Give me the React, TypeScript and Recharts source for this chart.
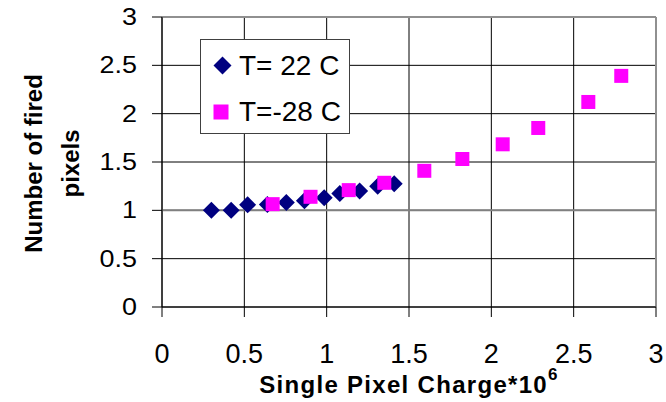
import React from 'react';
import { ScatterChart, Scatter, XAxis, YAxis, CartesianGrid, ReferenceLine, Label } from 'recharts';

const warmCharge = [0.3, 0.42, 0.52, 0.64, 0.755, 0.865, 0.985, 1.08, 1.2, 1.31, 1.41];
const warmFired = [1.0, 1.0, 1.057, 1.06, 1.08, 1.1, 1.13, 1.175, 1.2, 1.25, 1.275];
const coldCharge = [0.672, 0.902, 1.134, 1.35, 1.593, 1.824, 2.069, 2.285, 2.589, 2.789];
const coldFired = [1.064, 1.14, 1.209, 1.285, 1.409, 1.531, 1.683, 1.852, 2.121, 2.391];
const xTicks = [0, 0.5, 1, 1.5, 2, 2.5, 3];
const yTicks = [0, 0.5, 1, 1.5, 2, 2.5, 3];
const seriesNames = ['T= 22 C', 'T=-28 C'];
const xTitle = 'Single Pixel Charge*10';
const xTitleSup = '6';
const yTitleLines = ['Number of fired', 'pixels'];

const FONT = '"Liberation Sans", Arial, Helvetica, sans-serif';
const NAVY = '#000080';
const MAGENTA = '#FF00FF';

const warmData = warmCharge.map((x, i) => ({ x, y: warmFired[i] }));
const coldData = coldCharge.map((x, i) => ({ x, y: coldFired[i] }));

const Diamond = (props: any) => {
  const { cx, cy } = props;
  const r = 8.5;
  return <polygon points={`${cx},${cy - r} ${cx + r},${cy} ${cx},${cy + r} ${cx - r},${cy}`} fill={NAVY} />;
};

const Square = (props: any) => {
  const { cx, cy } = props;
  return <rect x={cx - 7} y={cy - 7} width={14} height={14} fill={MAGENTA} />;
};

const YTick = (props: any) => {
  const { x, y, payload } = props;
  return (
    <text
      x={x}
      y={y}
      dy="0.355em"
      textAnchor="end"
      fontSize={23}
      fontFamily={FONT}
      fill="#000"
      transform={`translate(${x},${y}) scale(1.17,1) translate(${-x},${-y})`}
    >
      {payload.value}
    </text>
  );
};

const XTitle = (props: any) => {
  const vb = props.viewBox || { x: 162, y: 307, width: 494 };
  const cx = vb.x + vb.width / 2;
  const y = vb.y + 85.6;
  return (
    <text x={cx} y={y} textAnchor="middle" fontSize={24} fontWeight="bold" fontFamily={FONT} fill="#000" letterSpacing={1.3}>
      {xTitle}
      <tspan fontSize={17} dy={-13}>{xTitleSup}</tspan>
    </text>
  );
};

const YTitle = (props: any) => {
  const vb = props.viewBox || { x: 0, y: 17, width: 162, height: 290 };
  const cy = vb.y + vb.height / 2 + 1.5;
  const xs = [41.7, 79];
  return (
    <g>
      {yTitleLines.map((line, i) => (
        <text
          key={i}
          x={xs[i]}
          y={cy}
          textAnchor="middle"
          fontSize={24}
          fontWeight="bold"
          fontFamily={FONT}
          fill="#000"
          transform={`rotate(-90, ${xs[i]}, ${cy})`}
        >
          {line}
        </text>
      ))}
    </g>
  );
};

const LegendBox = () => (
  <div
    style={{
      position: 'absolute',
      left: 200,
      top: 39,
      width: 150,
      height: 95,
      border: '1px solid #404040',
      boxSizing: 'border-box',
      background: '#fff',
    }}
  >
    <svg width={148} height={93} style={{ display: 'block' }}>
      <polygon points="21.5,16.5 30.5,25.5 21.5,34.5 12.5,25.5" fill={NAVY} />
      <rect x={12.5} y={64.5} width={15} height={15} fill={MAGENTA} />
      <text x={38} y={35} fontSize={28} fontFamily={FONT} fill="#000">{seriesNames[0]}</text>
      <text x={38} y={80.5} fontSize={28} fontFamily={FONT} fill="#000">{seriesNames[1]}</text>
    </svg>
  </div>
);

export default function App() {
  return (
    <div style={{ position: 'absolute', left: 0, top: 0, width: 666, height: 402, background: '#fff' }}>
      <ScatterChart width={666} height={402} margin={{ top: 17, right: 10, bottom: 0, left: 0 }}>
        <CartesianGrid stroke="#000" strokeWidth={1} horizontalValues={yTicks} verticalValues={xTicks} />
        <XAxis
          type="number"
          dataKey="x"
          domain={[0, 3]}
          ticks={xTicks}
          height={95}
          tickSize={10}
          tickMargin={27}
          interval={0}
          axisLine={{ stroke: '#000' }}
          tickLine={{ stroke: '#000' }}
          tick={{ fontSize: 27, fill: '#000', fontFamily: FONT }}
          allowDataOverflow
        >
          <Label content={<XTitle />} />
        </XAxis>
        <YAxis
          type="number"
          dataKey="y"
          domain={[0, 3]}
          ticks={yTicks}
          width={162}
          tickSize={10}
          tickMargin={15}
          interval={0}
          axisLine={{ stroke: '#000' }}
          tickLine={{ stroke: '#000' }}
          tick={<YTick />}
          allowDataOverflow
        >
          <Label content={<YTitle />} />
        </YAxis>
        <ReferenceLine y={3} stroke="#909090" strokeWidth={2} />
        <ReferenceLine x={3} stroke="#909090" strokeWidth={2} />
        <ReferenceLine y={1} stroke="#808080" strokeWidth={2} />
        <Scatter name={seriesNames[0]} data={warmData} shape={<Diamond />} isAnimationActive={false} />
        <Scatter name={seriesNames[1]} data={coldData} shape={<Square />} isAnimationActive={false} />
      </ScatterChart>
      <LegendBox />
    </div>
  );
}
